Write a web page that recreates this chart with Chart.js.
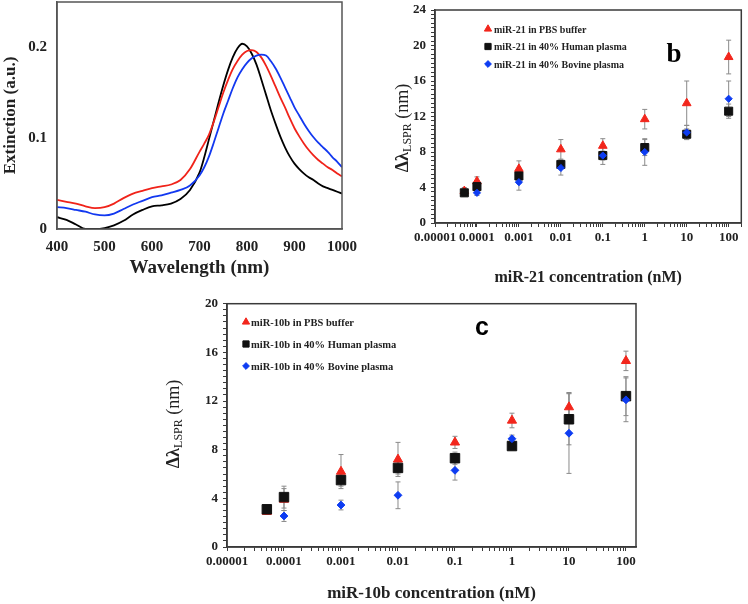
<!DOCTYPE html>
<html lang="en">
<head>
<meta charset="UTF-8" />
<title>LSPR extinction spectra and miRNA response</title>
<script src="https://cdn.jsdelivr.net/npm/chart.js"></script>
<style>
  body { margin: 0; background: #fff; width: 748px; height: 604px; position: relative; overflow: hidden; }
  .panel { position: absolute; }
  #boxA { left: 0; top: 0; width: 370px; height: 290px; }
  #boxB { left: 370px; top: 0; width: 378px; height: 300px; }
  #boxC { left: 130px; top: 296px; width: 520px; height: 308px; }
</style>
</head>
<body>
<div class="panel" id="boxA"><canvas id="chartA"></canvas></div>
<div class="panel" id="boxB"><canvas id="chartB"></canvas></div>
<div class="panel" id="boxC"><canvas id="chartC"></canvas></div>

<script>
// ---- panel a: extinction spectra ----
const wavelength = [400, 420, 440, 460, 480, 500, 520, 540, 560, 580, 600, 620, 640, 660, 680,
  700, 710, 720, 730, 740, 750, 760, 770, 780, 790, 800, 810, 820, 830, 840, 850,
  860, 870, 880, 890, 900, 910, 920, 930, 940, 950, 960, 970, 980, 990, 1000];
const extBlack = [0.013, 0.010, 0.005, 0.000, 0.000, 0.001, 0.004, 0.009, 0.016, 0.021, 0.025, 0.026, 0.028, 0.033, 0.043,
  0.062, 0.079, 0.099, 0.119, 0.139, 0.158, 0.175, 0.189, 0.199, 0.204, 0.201, 0.193, 0.181, 0.165, 0.148, 0.131,
  0.116, 0.102, 0.090, 0.080, 0.072, 0.066, 0.061, 0.057, 0.054, 0.050, 0.047, 0.045, 0.043, 0.041, 0.039];
const extRed = [0.032, 0.030, 0.028, 0.025, 0.023, 0.024, 0.028, 0.034, 0.039, 0.042, 0.045, 0.047, 0.049, 0.054, 0.066,
  0.085, 0.094, 0.104, 0.118, 0.134, 0.150, 0.164, 0.176, 0.185, 0.192, 0.196, 0.197, 0.195, 0.189, 0.180, 0.169,
  0.157, 0.145, 0.134, 0.122, 0.111, 0.102, 0.094, 0.087, 0.081, 0.076, 0.072, 0.068, 0.065, 0.061, 0.058];
const extBlue = [0.024, 0.023, 0.021, 0.019, 0.016, 0.015, 0.017, 0.022, 0.027, 0.031, 0.035, 0.037, 0.040, 0.043, 0.048,
  0.059, 0.068, 0.080, 0.095, 0.111, 0.127, 0.141, 0.155, 0.167, 0.176, 0.183, 0.188, 0.191, 0.192, 0.191, 0.185,
  0.177, 0.167, 0.156, 0.145, 0.134, 0.125, 0.116, 0.108, 0.101, 0.095, 0.090, 0.085, 0.079, 0.074, 0.068];
const wlTicks = [400, 500, 600, 700, 800, 900, 1000];
const extTicks = [0, 0.1, 0.2];
const extTickLabels = ['0', '0.1', '0.2'];

// ---- panels b and c: shared concentration axis (nM) ----
const concentration = [0.00005, 0.0001, 0.001, 0.01, 0.1, 1, 10, 100];
const decadeValues = [0.00001, 0.0001, 0.001, 0.01, 0.1, 1, 10, 100];
const decadeLabels = ['0.00001', '0.0001', '0.001', '0.01', '0.1', '1', '10', '100'];

// panel b: miR-21
const pbsB = [3.6, 4.7, 6.1, 8.3, 8.7, 11.7, 13.5, 18.7];
const pbsErrB = [0.4, 0.5, 0.9, 1.1, 0.8, 1.1, 2.5, 1.9];
const humanB = [3.4, 4.1, 5.3, 6.6, 7.6, 8.5, 10.0, 12.6];
const humanErrB = [0.4, 0.4, 0.5, 0.5, 0.5, 0.9, 0.6, 0.8];
const bovineB = [null, 3.4, 4.6, 6.2, 7.6, 8.0, 10.2, 14.0];
const bovineErrB = [null, 0.3, 0.9, 0.8, 1.0, 1.5, 0.8, 2.0];
const yTicksB = [0, 4, 8, 12, 16, 20, 24];

// panel c: miR-10b
const pbsC = [2.9, 3.9, 6.2, 7.2, 8.6, 10.4, 11.5, 15.3];
const pbsErrC = [0.2, 0.9, 1.4, 1.4, 0.5, 0.6, 1.2, 0.8];
const humanC = [3.1, 4.1, 5.5, 6.5, 7.3, 8.3, 10.5, 12.4];
const humanErrC = [0.2, 0.9, 0.5, 0.5, 0.5, 0.3, 2.1, 1.6];
const bovineC = [null, 2.55, 3.45, 4.25, 6.3, 8.9, 9.35, 12.1];
const bovineErrC = [null, 0.45, 0.4, 1.1, 0.8, 0.3, 3.3, 1.8];
const yTicksC = [0, 4, 8, 12, 16, 20];

const RED = '#f2261c', BLACK = '#111111', BLUE = '#0d3cf2';
const SERIF = '"Liberation Serif", "DejaVu Serif", serif';
const AXIS = '#3a3a3a';

// log ticks for every 1..9 step of each decade
function logTicks(min, max) {
  const out = [];
  for (let e = Math.floor(Math.log10(min)); Math.pow(10, e) <= max; e++) {
    for (let k = 1; k <= 9; k++) {
      const v = k * Math.pow(10, e);
      if (v >= min * 0.999 && v <= max * 1.001) out.push(v);
    }
  }
  return out;
}
function decadeLabel(v) {
  const i = decadeValues.findIndex(d => Math.abs(Math.log10(d) - Math.log10(v)) < 1e-6);
  return i >= 0 ? decadeLabels[i] : '';
}
function halfSteps(max) {
  const out = [];
  for (let v = 0; v <= max; v += 0.5) out.push(v);
  return out;
}
function fixWidth(w) {
  return s => { s.width = w; s.paddingTop = 0; s.paddingBottom = 0; };
}
function fixHeight(h) {
  return s => { s.height = h; s.paddingLeft = 0; s.paddingRight = 0; };
}
function points(xs, ys) {
  return xs.map((x, i) => ({x: x, y: ys[i]})).filter(p => p.y != null);
}
function errs(ys, es) {
  return es.filter((e, i) => ys[i] != null);
}

// box round the plot area
const frame = {
  id: 'frame',
  afterDraw(chart, args, o) {
    const {ctx, chartArea: a} = chart;
    ctx.save();
    ctx.strokeStyle = o.color;
    ctx.lineWidth = o.width;
    ctx.strokeRect(a.left, a.top, a.right - a.left, a.bottom - a.top);
    ctx.restore();
  }
};

// grey error bars with caps
const errorBars = {
  id: 'errorBars',
  beforeDatasetsDraw(chart) {
    const {ctx, scales: {x, y}} = chart;
    ctx.save();
    ctx.strokeStyle = '#8a8a8a';
    ctx.lineWidth = 1;
    chart.data.datasets.forEach(ds => {
      if (!ds.errors) return;
      ds.data.forEach((p, i) => {
        const e = ds.errors[i];
        if (e == null) return;
        const px = x.getPixelForValue(p.x);
        const top = y.getPixelForValue(p.y + e), bot = y.getPixelForValue(p.y - e);
        ctx.beginPath();
        ctx.moveTo(px, top); ctx.lineTo(px, bot);
        ctx.moveTo(px - 2.5, top); ctx.lineTo(px + 2.5, top);
        ctx.moveTo(px - 2.5, bot); ctx.lineTo(px + 2.5, bot);
        ctx.stroke();
      });
    });
    ctx.restore();
  }
};

// panel letter, legend inside the plot and the subscripted y title
const decor = {
  id: 'decor',
  afterDraw(chart, args, o) {
    const ctx = chart.ctx;
    ctx.save();
    if (o.letter) {
      ctx.font = o.letter.font;
      ctx.fillStyle = '#000';
      ctx.textAlign = 'center';
      ctx.textBaseline = 'alphabetic';
      ctx.fillText(o.letter.text, o.letter.x, o.letter.y);
    }
    if (o.legend) {
      const L = o.legend;
      chart.data.datasets.forEach((ds, i) => {
        const yy = L.y + i * L.dy;
        ctx.fillStyle = ds.backgroundColor;
        ctx.strokeStyle = ds.borderColor;
        Chart.helpers.drawPoint(ctx, {pointStyle: ds.pointStyle, rotation: 0, radius: ds.legendRadius, borderWidth: 1}, L.x, yy - 1);
        ctx.fillStyle = '#222';
        ctx.font = L.font;
        ctx.textAlign = 'left';
        ctx.textBaseline = 'middle';
        ctx.fillText(ds.label, L.textX, yy);
      });
    }
    if (o.ytitle) {
      const T = o.ytitle;
      const big = T.size + 'px ' + SERIF, small = Math.round(T.size * 0.68) + 'px ' + SERIF;
      ctx.translate(T.cx, T.cy);
      ctx.rotate(-Math.PI / 2);
      ctx.font = big;
      const w1 = ctx.measureText('\u0394\u03bb').width, w3 = ctx.measureText(' (nm)').width;
      ctx.font = small;
      const w2 = ctx.measureText('LSPR').width;
      let x = -(w1 + w2 + w3) / 2;
      ctx.fillStyle = '#222';
      ctx.textAlign = 'left';
      ctx.textBaseline = 'middle';
      ctx.font = 'bold ' + big;
      ctx.fillText('\u0394\u03bb', x, 0); x += w1;
      ctx.font = small;
      ctx.fillText('LSPR', x, T.size * 0.28); x += w2;
      ctx.font = big;
      ctx.fillText(' (nm)', x, 0);
    }
    ctx.restore();
  }
};

// ---- chart a ----
new Chart(document.getElementById('chartA'), {
  type: 'line',
  data: {
    datasets: [
      {data: points(wavelength, extBlue), borderColor: '#1238f0'},
      {data: points(wavelength, extRed), borderColor: '#f0231a'},
      {data: points(wavelength, extBlack), borderColor: '#000000'}
    ].map(d => Object.assign(d, {pointRadius: 0, borderWidth: 1.8, cubicInterpolationMode: 'monotone', fill: false}))
  },
  options: {
    animation: false, responsive: true, maintainAspectRatio: false,
    layout: {padding: {left: 0, right: 28, top: 2, bottom: 0}},
    plugins: {
      legend: {display: false}, tooltip: {enabled: false},
      frame: {color: '#555', width: 1.5},
      decor: {letter: {text: 'a', x: 99, y: 29, font: 'bold 30px ' + SERIF}}
    },
    scales: {
      x: {
        type: 'linear', min: 400, max: 1000,
        afterBuildTicks: s => { s.ticks = wlTicks.map(v => ({value: v})); },
        afterFit: fixHeight(61),
        grid: {display: false, drawTicks: false},
        border: {color: '#555', width: 1.5},
        ticks: {padding: 9, color: '#222', maxRotation: 0, autoSkip: false,
          callback: v => String(v),
          font: {family: SERIF, size: 15, weight: 'bold'}},
        title: {display: true, text: 'Wavelength (nm)', color: '#222',
          font: {family: SERIF, size: 19, weight: 'bold'}, padding: {top: 0, bottom: 11}}
      },
      y: {
        min: 0, max: 0.25,
        afterBuildTicks: s => { s.ticks = extTicks.map(v => ({value: v})); },
        afterFit: fixWidth(57),
        grid: {display: false, drawTicks: false},
        border: {color: '#555', width: 1.5},
        ticks: {padding: 10, color: '#222', autoSkip: false,
          callback: v => extTickLabels[extTicks.indexOf(v)],
          font: {family: SERIF, size: 15, weight: 'bold'}},
        title: {display: true, text: 'Extinction (a.u.)', color: '#222',
          font: {family: SERIF, size: 17, weight: 'bold'}, padding: {top: 0, bottom: 0}}
      }
    }
  },
  plugins: [frame]
});

// ---- scatter panels b and c ----
function makeScatter(id, cfg) {
  const sets = [
    {label: cfg.names[0], data: points(concentration, cfg.pbs), errors: errs(cfg.pbs, cfg.pbsErr),
      pointStyle: 'triangle', backgroundColor: RED, borderColor: RED, pointRadius: cfg.r[0], legendRadius: 4.2, order: 3},
    {label: cfg.names[1], data: points(concentration, cfg.human), errors: errs(cfg.human, cfg.humanErr),
      pointStyle: 'rect', backgroundColor: BLACK, borderColor: BLACK, pointRadius: cfg.r[1], legendRadius: 4.4, order: 2},
    {label: cfg.names[2], data: points(concentration, cfg.bovine), errors: errs(cfg.bovine, cfg.bovineErr),
      pointStyle: 'rectRot', backgroundColor: BLUE, borderColor: BLUE, pointRadius: cfg.r[2], legendRadius: 3.4, order: 1}
  ];
  sets.forEach(d => { d.pointBorderWidth = 1; });
  return new Chart(document.getElementById(id), {
    type: 'scatter',
    data: {datasets: sets},
    options: {
      animation: false, responsive: true, maintainAspectRatio: false,
      layout: {padding: cfg.pad},
      plugins: {
        legend: {display: false}, tooltip: {enabled: false},
        frame: {color: AXIS, width: 1.5},
        decor: {letter: cfg.letter, legend: cfg.legend, ytitle: cfg.ytitle}
      },
      scales: {
        x: {
          type: 'logarithmic', min: 0.00001, max: cfg.xMax,
          afterBuildTicks: s => { s.ticks = logTicks(0.00001, cfg.xMax).map(v => ({value: v})); },
          afterFit: fixHeight(cfg.xH),
          grid: {display: true, drawOnChartArea: false, drawTicks: true, tickLength: 4, color: AXIS},
          border: {color: AXIS, width: 1.5},
          ticks: {padding: 3, color: '#222', maxRotation: 0, minRotation: 0, autoSkip: false,
            callback: v => decadeLabel(v), font: {family: SERIF, size: 13, weight: 'bold'}},
          title: {display: true, text: cfg.xTitle, color: '#222',
            font: {family: SERIF, size: cfg.xTitleSize, weight: 'bold'}, padding: {top: 0, bottom: cfg.xTitlePad}}
        },
        y: {
          min: 0, max: cfg.yMax,
          afterBuildTicks: s => { s.ticks = halfSteps(cfg.yMax).map(v => ({value: v})); },
          afterFit: fixWidth(cfg.yW),
          grid: {display: true, drawOnChartArea: false, drawTicks: true, tickLength: 4, color: AXIS},
          border: {color: AXIS, width: 1.5},
          ticks: {padding: 5, color: '#222', autoSkip: false,
            callback: v => cfg.yTicks.includes(v) ? String(v) : '',
            font: {family: SERIF, size: 13, weight: 'bold'}},
          title: {display: false}
        }
      }
    },
    plugins: [errorBars, frame, decor]
  });
}

makeScatter('chartB', {
  names: ['miR-21 in PBS buffer', 'miR-21 in 40% Human plasma', 'miR-21 in 40% Bovine plasma'],
  pbs: pbsB, pbsErr: pbsErrB, human: humanB, humanErr: humanErrB, bovine: bovineB, bovineErr: bovineErrB,
  r: [5, 5.7, 3.6],
  pad: {left: 0, right: 1, top: 10, bottom: 0},
  xMax: 200, xH: 77, xTitle: 'miR-21 concentration (nM)', xTitleSize: 16, xTitlePad: 13,
  yMax: 24, yTicks: yTicksB, yW: 65,
  letter: {text: 'b', x: 304, y: 62, font: 'bold 27px ' + SERIF},
  legend: {x: 118, textX: 124, y: 30, dy: 17.5, font: 'bold 10px ' + SERIF},
  ytitle: {cx: 33, cy: 128, size: 18}
});

makeScatter('chartC', {
  names: ['miR-10b in PBS buffer', 'miR-10b in 40% Human plasma', 'miR-10b in 40% Bovine plasma'],
  pbs: pbsC, pbsErr: pbsErrC, human: humanC, humanErr: humanErrC, bovine: bovineC, bovineErr: bovineErrC,
  r: [5.3, 6.7, 3.9],
  pad: {left: 0, right: 14, top: 6, bottom: 0},
  xMax: 150, xH: 57, xTitle: 'miR-10b concentration (nM)', xTitleSize: 17, xTitlePad: 0,
  yMax: 20, yTicks: yTicksC, yW: 97,
  letter: {text: 'c', x: 352, y: 39, font: 'bold 25px "Liberation Sans", Arial, sans-serif'},
  legend: {x: 116, textX: 121, y: 27, dy: 22, font: 'bold 10.5px ' + SERIF},
  ytitle: {cx: 44, cy: 128, size: 18}
});
</script>
</body>
</html>
